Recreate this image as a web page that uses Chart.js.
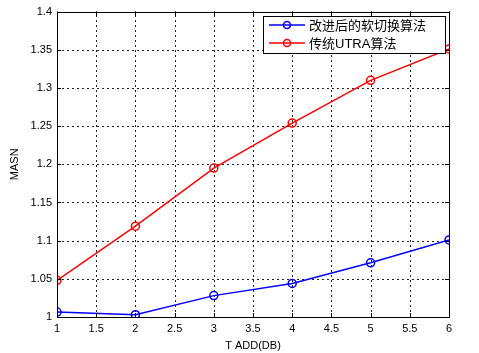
<!DOCTYPE html>
<html><head><meta charset="utf-8">
<script src="https://cdn.jsdelivr.net/npm/chart.js@4/dist/chart.umd.min.js"></script>
<style>html,body{margin:0;padding:0;background:#fff}#wrap{width:479px;height:353px}</style>
</head><body><div id="wrap"><canvas id="c" width="479" height="353"></canvas></div>
<script>
const xValues = [1, 2, 3, 4, 5, 6];
const improvedSeries = [1.0065, 1.003, 1.028, 1.044, 1.071, 1.101];
const utraSeries = [1.048, 1.119, 1.195, 1.254, 1.31, 1.351];
const seriesLabels = ['改进后的软切换算法', '传统UTRA算法'];
const xTitle = 'T ADD(DB)';
const yTitle = 'MASN';

const FONT = '"Liberation Sans", Arial, sans-serif';

const gridPlugin = {
  id: 'dottedGrid',
  beforeDatasetsDraw(chart) {
    const {ctx, chartArea: a, scales} = chart;
    ctx.save();
    ctx.strokeStyle = '#222';
    ctx.lineWidth = 1;
    ctx.setLineDash([2, 3]);
    ctx.beginPath();
    scales.x.ticks.forEach(t => {
      const px = Math.round(scales.x.getPixelForValue(t.value)) + 0.5;
      ctx.moveTo(px, a.bottom); ctx.lineTo(px, a.top);
    });
    scales.y.ticks.forEach(t => {
      const py = Math.round(scales.y.getPixelForValue(t.value)) + 0.5;
      ctx.moveTo(a.left, py); ctx.lineTo(a.right, py);
    });
    ctx.stroke();
    ctx.restore();
  },
  afterDatasetsDraw(chart) {
    const {ctx, chartArea: a, scales} = chart;
    ctx.save();
    ctx.strokeStyle = '#000';
    ctx.lineWidth = 1;
    ctx.setLineDash([]);
    ctx.strokeRect(Math.round(a.left) + 0.5, Math.round(a.top) + 0.5, Math.round(a.right - a.left), Math.round(a.bottom - a.top));
    const tl = 4;
    ctx.beginPath();
    scales.x.ticks.forEach(t => {
      const px = Math.round(scales.x.getPixelForValue(t.value)) + 0.5;
      ctx.moveTo(px, a.bottom); ctx.lineTo(px, a.bottom - tl);
      ctx.moveTo(px, a.top); ctx.lineTo(px, a.top + tl);
    });
    scales.y.ticks.forEach(t => {
      const py = Math.round(scales.y.getPixelForValue(t.value)) + 0.5;
      ctx.moveTo(a.left, py); ctx.lineTo(a.left + tl, py);
      ctx.moveTo(a.right, py); ctx.lineTo(a.right - tl, py);
    });
    ctx.stroke();
    // legend
    const lx = 263, ly = 16, lw = 182, lh = 37;
    ctx.fillStyle = '#fff';
    ctx.fillRect(lx, ly, lw, lh);
    ctx.strokeRect(lx + 0.5, ly + 0.5, lw, lh);
    chart.data.datasets.forEach((ds, i) => {
      const y = ly + 9 + i * 18;
      ctx.strokeStyle = ds.borderColor;
      ctx.lineWidth = 1.5;
      ctx.beginPath(); ctx.moveTo(lx + 6, y); ctx.lineTo(lx + 42, y); ctx.stroke();
      ctx.beginPath(); ctx.arc(lx + 24, y, 3.5, 0, Math.PI * 2); ctx.stroke();
      ctx.fillStyle = '#000';
      ctx.font = '13px ' + FONT + ', "Noto Sans CJK SC"';
      ctx.textBaseline = 'middle';
      ctx.textAlign = 'left';
      ctx.fillText(ds.label, lx + 46, y + 1);
    });
    ctx.restore();
  }
};

new Chart(document.getElementById('c'), {
  type: 'line',
  data: {
    datasets: [
      { label: seriesLabels[0], data: xValues.map((x, i) => ({x, y: improvedSeries[i]})),
        borderColor: '#0000ff', backgroundColor: 'rgba(0,0,0,0)', borderWidth: 1.5,
        pointRadius: 4, pointBorderWidth: 1.5, pointBackgroundColor: 'rgba(0,0,0,0)', tension: 0 },
      { label: seriesLabels[1], data: xValues.map((x, i) => ({x, y: utraSeries[i]})),
        borderColor: '#ff0000', backgroundColor: 'rgba(0,0,0,0)', borderWidth: 1.5,
        pointRadius: 4, pointBorderWidth: 1.5, pointBackgroundColor: 'rgba(0,0,0,0)', tension: 0 }
    ]
  },
  options: {
    responsive: false, animation: false, devicePixelRatio: 1,
    layout: { padding: { top: 10, right: 30, left: 0, bottom: 0 } },
    plugins: { legend: { display: false }, tooltip: { enabled: false } },
    scales: {
      x: {
        type: 'linear', min: 1, max: 6,
        afterFit(s) { s.height = 36; },
        ticks: { stepSize: 0.5, color: '#000', font: { family: FONT, size: 11 }, padding: 5, maxRotation: 0,
          callback: v => String(Number(v.toFixed(1))) },
        grid: { display: false, drawTicks: false },
        border: { display: false },
        title: { display: true, text: xTitle, color: '#000', font: { family: FONT, size: 11 }, padding: { top: 1, bottom: 0 } }
      },
      y: {
        min: 1, max: 1.4,
        afterFit(s) { s.width = 57; },
        ticks: { stepSize: 0.05, color: '#000', font: { family: FONT, size: 11 }, padding: 5,
          callback: v => String(Number(v.toFixed(2))) },
        grid: { display: false, drawTicks: false },
        border: { display: false },
        title: { display: true, text: yTitle, color: '#000', font: { family: FONT, size: 11 }, padding: { top: 8, bottom: 4 } }
      }
    }
  },
  plugins: [gridPlugin]
});
</script></body></html>
